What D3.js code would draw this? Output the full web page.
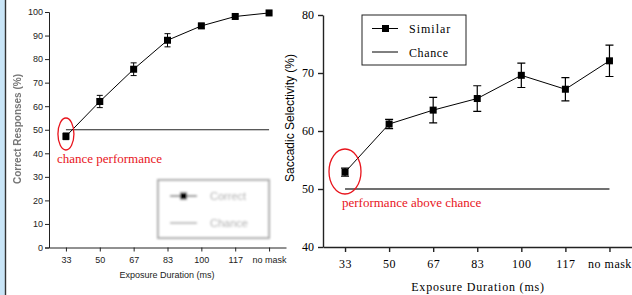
<!DOCTYPE html>
<html>
<head>
<meta charset="utf-8">
<script src="https://cdn.jsdelivr.net/npm/d3@7"></script>
<style>
  body { margin: 0; background: #fff; }
  svg { display: block; }
</style>
</head>
<body>
<svg id="chart" width="632" height="295"></svg>
<script>
// exposure durations shared by both panels
var categories = ["33", "50", "67", "83", "100", "117", "no mask"];

// left panel: percent correct
var correctMean = [47.2, 62, 75.7, 88, 94.1, 98.1, 99.6];
var correctErr = [1.4, 2.6, 2.7, 2.8, 1.1, 0.8, 0.5];
var leftTicks = [0, 10, 20, 30, 40, 50, 60, 70, 80, 90, 100];

// right panel: saccadic selectivity
var similarMean = [52.9, 61.2, 63.6, 65.6, 69.6, 67.2, 72.1];
var similarErr = [0.7, 0.8, 2.2, 2.2, 2.1, 2.0, 2.7];
var rightTicks = [40, 50, 60, 70, 80];

var chanceLevel = 50;

var svg = d3.select("#chart");

// blur filter for the washed-out bits of the left figure
var defs = svg.append("defs");
defs.append("filter").attr("id", "blurry")
    .append("feGaussianBlur").attr("stdDeviation", 0.9);
defs.append("filter").attr("id", "blurry2")
    .append("feGaussianBlur").attr("stdDeviation", 0.7);

// left page border strip
svg.append("rect").attr("x", 0).attr("y", 0).attr("width", 5).attr("height", 295).attr("fill", "#c9e5f7");
svg.append("line").attr("x1", 5.5).attr("x2", 5.5).attr("y1", 0).attr("y2", 295)
    .attr("stroke", "#333").attr("stroke-width", 1.4);

/* ---------------- left panel ---------------- */
var xL = d3.scalePoint().domain(categories).range([49, 286]).padding(0.5);
var yL = d3.scaleLinear().domain([0, 100]).range([247.5, 12]);

var gL = svg.append("g");

gL.append("g")
    .attr("transform", "translate(49,0)")
    .call(d3.axisLeft(yL).tickValues(leftTicks).tickSize(4).tickPadding(2))
    .call(g => g.selectAll("text").style("font", "9px 'Liberation Sans', Arial, sans-serif").attr("fill", "#222"))
    .call(g => g.selectAll("line,path").attr("stroke", "#222"));

gL.append("g")
    .attr("transform", "translate(0,247.5)")
    .call(d3.axisBottom(xL).tickSize(4).tickPadding(5).tickSizeOuter(0))
    .call(g => g.selectAll("text").style("font", "9px 'Liberation Sans', Arial, sans-serif").attr("fill", "#222"))
    .call(g => g.selectAll("line,path").attr("stroke", "#222"));

gL.append("text")
    .attr("x", 167).attr("y", 278)
    .attr("text-anchor", "middle")
    .style("font", "9px 'Liberation Sans', Arial, sans-serif")
    .attr("fill", "#222")
    .text("Exposure Duration (ms)");

// blurred y label
gL.append("text")
    .attr("transform", "translate(21,129) rotate(-90)")
    .attr("text-anchor", "middle")
    .style("font", "bold 10px 'Liberation Sans', Arial, sans-serif")
    .attr("fill", "#777")
    .attr("filter", "url(#blurry2)")
    .text("Correct Responses (%)");

// chance line
gL.append("line")
    .attr("x1", xL(categories[0])).attr("x2", xL(categories[categories.length - 1]))
    .attr("y1", yL(chanceLevel)).attr("y2", yL(chanceLevel))
    .attr("stroke", "#222").attr("stroke-width", 1);

gL.append("path")
    .datum(correctMean)
    .attr("fill", "none").attr("stroke", "#000").attr("stroke-width", 1)
    .attr("d", d3.line().x((d, i) => xL(categories[i])).y(d => yL(d)));

gL.selectAll(".errL")
    .data(correctMean)
    .enter().append("path")
    .attr("class", "errL")
    .attr("fill", "none").attr("stroke", "#000").attr("stroke-width", 1)
    .attr("d", function (d, i) {
        var x = xL(categories[i]), t = yL(d + correctErr[i]), b = yL(d - correctErr[i]);
        return "M" + (x - 3) + "," + t + "H" + (x + 3) + "M" + x + "," + t + "V" + b + "M" + (x - 3) + "," + b + "H" + (x + 3);
    });

gL.selectAll(".ptL")
    .data(correctMean)
    .enter().append("rect")
    .attr("class", "ptL")
    .attr("x", (d, i) => xL(categories[i]) - 3.5)
    .attr("y", d => yL(d) - 3.5)
    .attr("width", 7).attr("height", 7)
    .attr("fill", "#000");

// blurred legend
var legL = gL.append("g").attr("filter", "url(#blurry)");
legL.append("rect").attr("x", 158).attr("y", 180).attr("width", 111).attr("height", 58)
    .attr("fill", "#fff").attr("stroke", "#aaa").attr("stroke-width", 2);
legL.append("line").attr("x1", 170).attr("x2", 197).attr("y1", 196).attr("y2", 196).attr("stroke", "#222");
legL.append("rect").attr("x", 180).attr("y", 192.5).attr("width", 7).attr("height", 7).attr("fill", "#000");
legL.append("line").attr("x1", 170).attr("x2", 197).attr("y1", 223).attr("y2", 223).attr("stroke", "#777");
legL.append("text").attr("x", 210).attr("y", 200).style("font", "11px 'Liberation Sans', Arial, sans-serif")
    .attr("fill", "#aaa").text("Correct");
legL.append("text").attr("x", 210).attr("y", 227).style("font", "11px 'Liberation Sans', Arial, sans-serif")
    .attr("fill", "#aaa").text("Chance");

// red annotation
gL.append("ellipse")
    .attr("cx", xL(categories[0])).attr("cy", 134).attr("rx", 8).attr("ry", 16)
    .attr("fill", "none").attr("stroke", "#e8141c").attr("stroke-width", 1.3);
gL.append("text")
    .attr("x", 57).attr("y", 163)
    .style("font", "13px 'Liberation Serif', 'Times New Roman', serif")
    .attr("fill", "#e8141c")
    .text("chance performance");

/* ---------------- right panel ---------------- */
var xR = d3.scalePoint().domain(categories).range([323, 631.5]).padding(0.5);
var yR = d3.scaleLinear().domain([40, 80]).range([247, 15]);

var gR = svg.append("g");

gR.append("g")
    .attr("transform", "translate(323,0)")
    .call(d3.axisLeft(yR).tickValues(rightTicks).tickSize(5).tickPadding(4).tickSizeOuter(0))
    .call(g => g.selectAll("text").style("font", "12px 'Liberation Serif', 'Times New Roman', serif").attr("fill", "#000"))
    .call(g => g.selectAll("line,path").attr("stroke", "#222").attr("stroke-width", 1.4));

gR.append("g")
    .attr("transform", "translate(0,247)")
    .call(d3.axisBottom(xR).tickSize(5).tickPadding(7).tickSizeOuter(0))
    .call(g => g.selectAll("text").style("font", "12px 'Liberation Serif', 'Times New Roman', serif")
        .style("letter-spacing", "0.5px").attr("fill", "#000"))
    .call(g => g.selectAll("line,path").attr("stroke", "#222").attr("stroke-width", 1.4));

gR.append("text")
    .attr("x", 478).attr("y", 291)
    .attr("text-anchor", "middle")
    .style("font", "12px 'Liberation Serif', 'Times New Roman', serif")
    .style("letter-spacing", "0.8px")
    .attr("fill", "#000")
    .text("Exposure Duration (ms)");

gR.append("text")
    .attr("transform", "translate(294,118) rotate(-90)")
    .attr("text-anchor", "middle")
    .style("font", "12px 'Liberation Sans', Arial, sans-serif")
    .attr("fill", "#000")
    .text("Saccadic Selectivity (%)");

gR.append("line")
    .attr("x1", xR(categories[0])).attr("x2", xR(categories[categories.length - 1]))
    .attr("y1", yR(chanceLevel)).attr("y2", yR(chanceLevel))
    .attr("stroke", "#707070").attr("stroke-width", 2);

gR.append("path")
    .datum(similarMean)
    .attr("fill", "none").attr("stroke", "#000").attr("stroke-width", 1)
    .attr("d", d3.line().x((d, i) => xR(categories[i])).y(d => yR(d)));

gR.selectAll(".errR")
    .data(similarMean)
    .enter().append("path")
    .attr("class", "errR")
    .attr("fill", "none").attr("stroke", "#000").attr("stroke-width", 1.2)
    .attr("d", function (d, i) {
        var x = xR(categories[i]), t = yR(d + similarErr[i]), b = yR(d - similarErr[i]);
        return "M" + (x - 4) + "," + t + "H" + (x + 4) + "M" + x + "," + t + "V" + b + "M" + (x - 4) + "," + b + "H" + (x + 4);
    });

gR.selectAll(".ptR")
    .data(similarMean)
    .enter().append("rect")
    .attr("class", "ptR")
    .attr("x", (d, i) => xR(categories[i]) - 3.5)
    .attr("y", d => yR(d) - 3.5)
    .attr("width", 7).attr("height", 7)
    .attr("fill", "#000");

// legend
var legR = gR.append("g");
legR.append("rect").attr("x", 362).attr("y", 15).attr("width", 104).attr("height", 50)
    .attr("fill", "#fff").attr("stroke", "#222").attr("stroke-width", 1);
legR.append("line").attr("x1", 372).attr("x2", 398).attr("y1", 28.5).attr("y2", 28.5).attr("stroke", "#000");
legR.append("rect").attr("x", 382).attr("y", 25).attr("width", 7).attr("height", 7).attr("fill", "#000");
legR.append("line").attr("x1", 372).attr("x2", 398).attr("y1", 52).attr("y2", 52).attr("stroke", "#000");
legR.append("text").attr("x", 409).attr("y", 33)
    .style("font", "12px 'Liberation Serif', 'Times New Roman', serif").style("letter-spacing", "1px")
    .attr("fill", "#000").text("Similar");
legR.append("text").attr("x", 409).attr("y", 57)
    .style("font", "12px 'Liberation Serif', 'Times New Roman', serif").style("letter-spacing", "0.6px")
    .attr("fill", "#000").text("Chance");

// red annotation
gR.append("ellipse")
    .attr("cx", 345).attr("cy", 171.5).attr("rx", 16).attr("ry", 22.5)
    .attr("fill", "none").attr("stroke", "#e8141c").attr("stroke-width", 1.3);
gR.append("text")
    .attr("x", 342).attr("y", 207)
    .style("font", "13px 'Liberation Serif', 'Times New Roman', serif")
    .attr("fill", "#e8141c")
    .text("performance above chance");
</script>
</body>
</html>
